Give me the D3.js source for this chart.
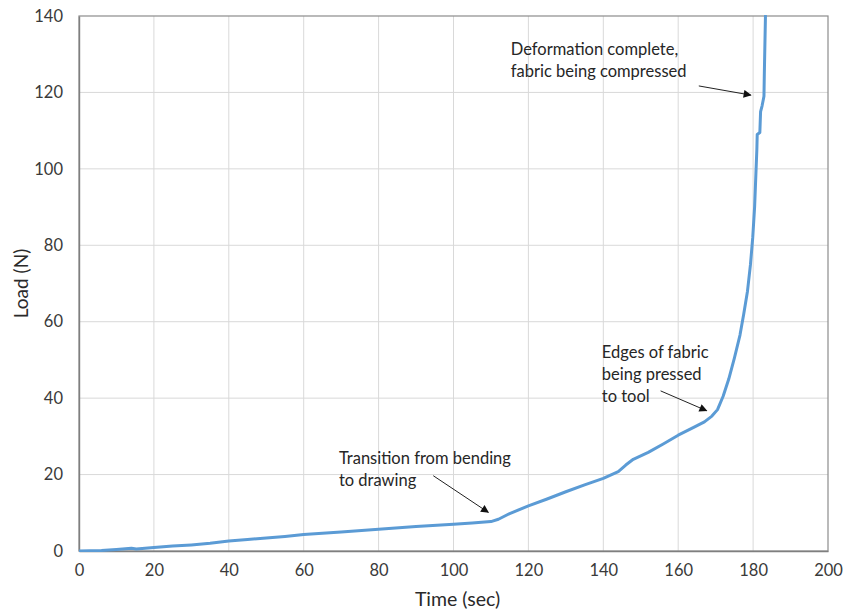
<!DOCTYPE html>
<html>
<head>
<meta charset="utf-8">
<script src="https://cdn.jsdelivr.net/npm/d3@7"></script>
<style>
  html, body { margin: 0; padding: 0; background: #fff; }
  svg { display: block; font-family: Lato, "Open Sans", sans-serif; }
</style>
</head>
<body>
<svg id="chart" width="844" height="611"></svg>
<script>
// Load–time record of the forming test
const timeSec = [0, 3, 6, 10, 14, 15.3, 20, 25, 30, 35, 40, 45, 50, 55, 60, 70, 80, 90, 100, 105, 110,
  112, 115, 120, 125, 130, 135, 140, 144, 146, 148, 152, 156, 160, 164, 167, 169, 170.5, 172,
  173.5, 175, 176.5, 177.5, 178.5, 179.3, 179.9, 180.4, 180.8, 181.0, 181.1, 181.8, 182.0,
  182.4, 182.9, 183.0, 183.2, 183.3];
const loadN = [0, 0.05, 0.15, 0.4, 0.7, 0.5, 0.9, 1.3, 1.6, 2.0, 2.6, 3.0, 3.4, 3.8, 4.3, 5.0, 5.7, 6.4, 7.0, 7.3, 7.7,
  8.3, 9.8, 11.8, 13.6, 15.5, 17.3, 19.0, 20.8, 22.5, 24.0, 25.8, 28.0, 30.3, 32.3, 33.8, 35.3, 37.0, 40.5,
  45, 50.5, 56.5, 62, 68, 75, 82, 90, 100, 105, 109, 109.5, 115,
  116.5, 119, 125, 135, 140];

const xTicks = [0, 20, 40, 60, 80, 100, 120, 140, 160, 180, 200];
const yTicks = [0, 20, 40, 60, 80, 100, 120, 140];

// Callouts: text lines, text anchor point (data units), arrow start and tip (data units)
const notes = [
  { lines: ["Deformation complete,", "fabric being compressed"], at: [115.3, 129.7], from: [165.5, 121.7], to: [179.4, 119.3] },
  { lines: ["Edges of fabric", "being pressed", "to tool"], at: [139.6, 50.4], from: [155.3, 41.9], to: [167.6, 36.7] },
  { lines: ["Transition from bending", "to drawing"], at: [69.4, 22.7], from: [94.6, 19.7], to: [109.3, 10.1] }
];

const W = 844, H = 611;
const margin = { top: 16, right: 16, bottom: 60, left: 79 };
const iw = W - margin.left - margin.right;
const ih = H - margin.top - margin.bottom;

const svg = d3.select("#chart");
const g = svg.append("g").attr("transform", `translate(${margin.left},${margin.top})`);

const x = d3.scaleLinear().domain([0, 200]).range([0, iw]);
const y = d3.scaleLinear().domain([0, 140]).range([ih, 0]);

// gridlines
g.append("g").selectAll("line.vg").data(xTicks.slice(1, -1)).join("line")
  .attr("x1", d => x(d)).attr("x2", d => x(d)).attr("y1", 0).attr("y2", ih)
  .attr("stroke", "#d9d9d9").attr("stroke-width", 1);
g.append("g").selectAll("line.hg").data(yTicks.slice(1, -1)).join("line")
  .attr("y1", d => y(d)).attr("y2", d => y(d)).attr("x1", 0).attr("x2", iw)
  .attr("stroke", "#d9d9d9").attr("stroke-width", 1);

// plot frame
g.append("rect").attr("x", 0).attr("y", 0).attr("width", iw).attr("height", ih)
  .attr("fill", "none").attr("stroke", "#8c8c8c").attr("stroke-width", 1.2);

// axes
const xAxis = g.append("g").attr("transform", `translate(0,${ih})`)
  .call(d3.axisBottom(x).tickValues(xTicks).tickSize(0).tickPadding(13));
const yAxis = g.append("g")
  .call(d3.axisLeft(y).tickValues(yTicks).tickSize(0).tickPadding(16));
[xAxis, yAxis].forEach(a => {
  a.select(".domain").attr("stroke", "#7f7f7f").attr("stroke-width", 1.4);
  a.selectAll("text").attr("font-family", "Lato, sans-serif").attr("font-size", 16.5).attr("fill", "#3a3a3a");
});

// axis titles
svg.append("text").attr("x", margin.left + iw / 2 + 4).attr("y", 606)
  .attr("text-anchor", "middle").attr("font-size", 19.5).attr("fill", "#2a2a2a").text("Time (sec)");
svg.append("text").attr("transform", `translate(28,${margin.top + ih / 2}) rotate(-90)`)
  .attr("text-anchor", "middle").attr("font-size", 19).attr("fill", "#2a2a2a").text("Load (N)");

// data line
svg.append("defs").append("clipPath").attr("id", "plotClip")
  .append("rect").attr("x", 0).attr("y", -1).attr("width", iw).attr("height", ih + 2);
const pts = timeSec.map((t, i) => [t, loadN[i]]);
g.append("path").datum(pts)
  .attr("clip-path", "url(#plotClip)")
  .attr("fill", "none").attr("stroke", "#5b9bd5").attr("stroke-width", 3)
  .attr("stroke-linejoin", "round").attr("stroke-linecap", "round")
  .attr("d", d3.line().x(d => x(d[0])).y(d => y(d[1])));

// arrowhead marker
svg.select("defs").append("marker").attr("id", "arrow")
  .attr("viewBox", "0 0 10 10").attr("refX", 9).attr("refY", 5)
  .attr("markerWidth", 10).attr("markerHeight", 8).attr("markerUnits", "userSpaceOnUse")
  .attr("orient", "auto")
  .append("path").attr("d", "M0,0 L10,5 L0,10 Z").attr("fill", "#111");

// callouts
notes.forEach(n => {
  const t = g.append("text").attr("x", x(n.at[0])).attr("y", y(n.at[1]))
    .attr("font-size", 16.5).attr("fill", "#262626");
  n.lines.forEach((s, i) => t.append("tspan").attr("x", x(n.at[0])).attr("dy", i === 0 ? 0 : 21.7).text(s));
  g.append("line")
    .attr("x1", x(n.from[0])).attr("y1", y(n.from[1]))
    .attr("x2", x(n.to[0])).attr("y2", y(n.to[1]))
    .attr("stroke", "#222").attr("stroke-width", 1).attr("marker-end", "url(#arrow)");
});
</script>
</body>
</html>
